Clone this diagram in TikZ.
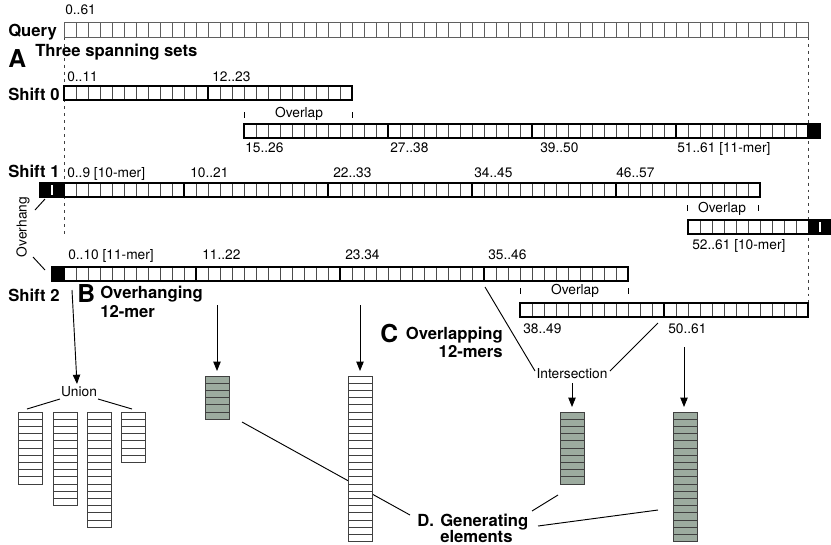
\documentclass[tikz,border=0pt]{standalone}
\usepackage{fontspec}
\setmainfont{TeX Gyre Heros}
\usetikzlibrary{arrows.meta}
\definecolor{gcell}{RGB}{156,171,159}
\definecolor{qline}{RGB}{95,95,95}
\tikzset{
 lab/.style={font=\fontsize{10.3}{12}\selectfont, anchor=base west, inner sep=0pt},
 blab/.style={font=\fontsize{12.5}{14}\selectfont\bfseries, anchor=base west, inner sep=0pt},
 bigl/.style={font=\fontsize{18.5}{20}\selectfont\bfseries, anchor=base west, inner sep=0pt},
 qcell/.style={draw=qline, line width=0.6pt},
 tcell/.style={draw=black!70, line width=0.5pt},
 outerb/.style={draw=black, line width=1.4pt},
 sepline/.style={draw=black, line width=1.4pt},
 guide/.style={draw=black!75, line width=0.75pt, dash pattern=on 2.2pt off 3pt},
 conn/.style={draw=black, line width=0.7pt},
 arr/.style={conn, -{Triangle[length=7pt,width=5.5pt]}},
 tickm/.style={draw=black, line width=0.7pt},
 wcol/.style={draw=black!75, fill=white, line width=0.6pt},
 gcol/.style={draw=black!75, fill=gcell, line width=0.75pt},
}
% row of cells: first index, last index, top y
\newcommand\cellsrow[3]{%
  \foreach \i in {#1,...,#2} \draw[tcell] ({64+12*\i},#3) rectangle ++(12,14);}
\newcommand\vcolumn[5]{% x, ytop, n, style, name
  \coordinate (#5) at ({#1+12},#2);
  \foreach \j in {1,...,#3} \draw[#4] (#1,{#2+7.2*(\j-1)}) rectangle ++(24,7.2);}
\begin{document}
\begin{tikzpicture}[x=0.75pt,y=-0.75pt]
\useasboundingbox (0,0) rectangle (831,544);
% guides
\coordinate (gL1) at (64,37); \coordinate (gL2) at (64,236);
\coordinate (gR1) at (808,37); \coordinate (gR2) at (808,303);
\draw[guide] (gL1) -- (gL2);
\draw[guide] (gR1) -- (gR2);
% Query
\node[lab] (q061) at (65,14) {0..61};
\node[blab] (query) at (8,36) {Query};
\foreach \i in {0,...,61} \draw[qcell] ({64+12*\i},22) rectangle ++(12,15);
\node[bigl] (A) at (8,67) {A};
\node[blab] (Atitle) at (35,56) {Three spanning sets};
% Shift 0
\node[blab] (s0) at (8,100) {Shift 0};
\node[lab] at (67,81) {0..11};
\node[lab] at (212,81) {12..23};
\cellsrow{0}{23}{86}
\draw[sepline] (208,86) -- ++(0,14);
\draw[outerb] (64,86) rectangle (352,100);
\draw[tickm] (244,112) -- (244,118);
\draw[tickm] (352,112) -- (352,118);
\node[lab,anchor=base] at (299,117) {Overlap};
\cellsrow{15}{61}{124}
\fill[black] (808,124) rectangle (820,138);
\foreach \s in {27,39,51,62} \draw[sepline] ({64+12*\s},124) -- ++(0,14);
\draw[outerb] (244,124) rectangle (820,138);
\node[lab] at (245,152) {15..26};
\node[lab] at (390,152) {27..38};
\node[lab] at (540,152) {39..50};
\node[lab] at (677,152) {51..61 [11-mer]};
% Shift 1
\node[blab] (s1) at (8,177) {Shift 1};
\node[lab] at (67,177) {0..9 [10-mer]};
\node[lab] at (190,177) {10..21};
\node[lab] at (333,177) {22..33};
\node[lab] at (474,177) {34..45};
\node[lab] at (616,177) {46..57};
\cellsrow{0}{57}{183}
\fill[black] (40,183) rectangle (64,197);
\draw[white, line width=0.8pt] (52,185) -- (52,195);
\foreach \s in {0,10,22,34,46} \draw[sepline] ({64+12*\s},183) -- ++(0,14);
\draw[outerb] (40,183) rectangle (760,197);
\draw[tickm] (687,205) -- (687,211);
\draw[tickm] (758,205) -- (758,211);
\node[lab,anchor=base] at (722,212) {Overlap};
\cellsrow{52}{61}{220}
\fill[black] (808,220) rectangle (833,234);
\draw[white, line width=0.8pt] (820,222) -- (820,232);
\draw[outerb] (688,220) rectangle (833,234);
\node[lab] at (692,249) {52..61 [10-mer]};
% Overhang
\node[lab, rotate=90, anchor=center] (ovh) at (23,227) {Overhang};
\coordinate (o1a) at (45,199); \coordinate (o1b) at (35,210);
\coordinate (o2a) at (33,257); \coordinate (o2b) at (45,270);
\draw[conn] (o1a) -- (o1b);
\draw[conn] (o2a) -- (o2b);
% Shift 2
\node[lab] at (68,259) {0..10 [11-mer]};
\node[lab] at (202,259) {11..22};
\node[lab] at (345,259) {23.34};
\node[lab] at (488,259) {35..46};
\cellsrow{0}{46}{267}
\fill[black] (52,267) rectangle (64,281);
\foreach \s in {0,11,23,35} \draw[sepline] ({64+12*\s},267) -- ++(0,14);
\draw[outerb] (52,267) rectangle (628,281);
\node[blab] (s2) at (8,301) {Shift 2};
\node[bigl] (B) at (77,302) {B};
\node[blab] (Bt1) at (100,298) {Overhanging};
\node[blab] (Bt2) at (100,317) {12-mer};
\draw[tickm] (520,288) -- (520,294);
\draw[tickm] (628,288) -- (628,294);
\node[lab,anchor=base] at (575,294) {Overlap};
\cellsrow{38}{61}{303}
\draw[sepline] (664,303) -- ++(0,14);
\draw[outerb] (520,303) rectangle (808,317);
\node[lab] at (523,333) {38..49};
\node[lab] at (668,333) {50..61};
\node[bigl] (C) at (380,342) {C};
\node[blab,anchor=base east] at (503,339) {Overlapping};
\node[blab,anchor=base east] at (503,357) {12-mers};
% Union
\coordinate (uS) at (72,290); \coordinate (uE) at (77,384);
\draw[arr] (uS) -- (uE);
\node[lab,anchor=base] (union) at (79,396) {Union};
\coordinate (ul1) at (27,409); \coordinate (ul2) at (60,399);
\coordinate (ur1) at (98,399); \coordinate (ur2) at (132,409);
\draw[conn] (ul1) -- (ul2);
\draw[conn] (ur1) -- (ur2);
\vcolumn{18}{412}{10}{wcol}{uc1}
\vcolumn{53}{412}{13}{wcol}{uc2}
\vcolumn{87}{412}{16}{wcol}{uc3}
\vcolumn{121}{412}{7}{wcol}{uc4}
% B columns
\coordinate (bS1) at (217,305); \coordinate (bE1) at (217,371);
\coordinate (bS2) at (360,305); \coordinate (bE2) at (360,371);
\draw[arr] (bS1) -- (bE1);
\draw[arr] (bS2) -- (bE2);
\coordinate (dl1) at (242,422); \coordinate (dl2) at (410,515);
\draw[conn] (dl1) -- (dl2);
\vcolumn{205}{376}{6}{gcol}{bc1}
\vcolumn{348}{376}{23}{wcol}{bc2}
% C: intersection
\node[lab,anchor=base] (inter) at (572,378) {Intersection};
\coordinate (iA) at (485,287); \coordinate (iB) at (535,371);
\coordinate (iC) at (658,323); \coordinate (iD) at (610,371);
\draw[conn] (iA) -- (iB);
\draw[conn] (iC) -- (iD);
\coordinate (cS1) at (572,383); \coordinate (cE1) at (572,407);
\coordinate (cS2) at (684,347); \coordinate (cE2) at (684,407);
\draw[arr] (cS1) -- (cE1);
\draw[arr] (cS2) -- (cE2);
\vcolumn{560}{412}{10}{gcol}{cc1}
\vcolumn{673}{412}{18}{gcol}{cc2}
% D
\node[blab] (D) at (417,526) {D.};
\node[blab] (Dg) at (440,526) {Generating};
\node[blab] (De) at (440,542) {elements};
\coordinate (dc1) at (558,495); \coordinate (dc2) at (532,511);
\coordinate (dc3) at (658,510); \coordinate (dc4) at (538,526);
\draw[conn] (dc1) -- (dc2);
\draw[conn] (dc3) -- (dc4);
\end{tikzpicture}
\end{document}
